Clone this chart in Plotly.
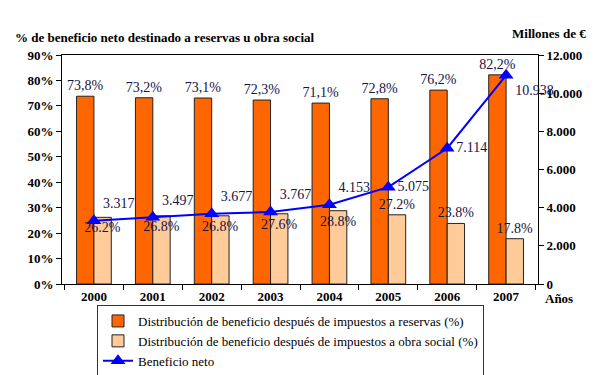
import plotly.graph_objects as go

years = ["2000", "2001", "2002", "2003", "2004", "2005", "2006", "2007"]
reservas = [73.8, 73.2, 73.1, 72.3, 71.1, 72.8, 76.2, 82.2]
obra_social = [26.2, 26.8, 26.8, 27.6, 28.8, 27.2, 23.8, 17.8]
beneficio = [3317, 3497, 3677, 3767, 4153, 5075, 7114, 10938]

name_res = "Distribución de beneficio después de impuestos a reservas (%)"
name_obs = "Distribución de beneficio después de impuestos a obra social (%)"
name_ben = "Beneficio neto"

SERIF = "'Liberation Serif', 'Times New Roman', Times, serif"
LBL = "#141448"

res_text = [f"{v:.1f}".replace(".", ",") + "%" for v in reservas]
obs_text = [f"{v:.1f}%" for v in obra_social]
ben_text = [f"{v:,}".replace(",", ".") for v in beneficio]

obs_pos = ["inside", "inside", "inside", "inside", "inside", "outside", "outside", "outside"]
ben_pos = ["top right", "top right", "top right", "top right", "top right",
           "middle right", "middle right", "bottom right"]

fig = go.Figure()
fig.add_trace(go.Bar(
    x=years, y=reservas, name=name_res,
    marker=dict(color="#FF6600", line=dict(color="#222222", width=1)),
    text=res_text, textposition="outside", constraintext="none",
    textfont=dict(family=SERIF, size=14, color=LBL), cliponaxis=False,
))
fig.add_trace(go.Bar(
    x=years, y=obra_social, name=name_obs,
    marker=dict(color="#FFCC99", line=dict(color="#222222", width=1)),
    text=obs_text, textposition=obs_pos, constraintext="none",
    insidetextanchor="end",
    insidetextfont=dict(family=SERIF, size=14, color=LBL),
    outsidetextfont=dict(family=SERIF, size=14, color=LBL),
    textangle=0, cliponaxis=False,
))
fig.add_trace(go.Scatter(
    x=years, y=beneficio, name=name_ben, yaxis="y2",
    mode="lines+markers+text",
    line=dict(color="#0000FF", width=2),
    marker=dict(symbol="triangle-up", size=13, color="#0000FF"),
    text=ben_text, textposition=ben_pos,
    textfont=dict(family=SERIF, size=14, color=LBL), cliponaxis=False,
))

tickfont = dict(family=SERIF, size=13, color="black", weight="bold")

fig.update_layout(
    width=600, height=375,
    margin=dict(l=62, r=62, t=55, b=91, autoexpand=False),
    paper_bgcolor="white", plot_bgcolor="white",
    separators=",.",
    barmode="group", bargap=0.41, bargroupgap=0.0,
    showlegend=True,
    legend=dict(
        xref="container", yref="container",
        x=97 / 600, xanchor="left",
        y=(375 - 305) / 375, yanchor="top",
        orientation="v", bgcolor="white",
        bordercolor="#333333", borderwidth=1,
        font=dict(family=SERIF, size=13, color="black"),
        traceorder="normal", tracegroupgap=0,
    ),
    xaxis=dict(
        type="category", showline=True, linecolor="black", linewidth=1,
        mirror=True, ticks="outside", ticklen=5, tickson="boundaries",
        tickcolor="black", tickfont=tickfont, showgrid=False, automargin=False,
    ),
    yaxis=dict(
        range=[0, 90], dtick=10, ticksuffix="%", showline=True,
        linecolor="black", linewidth=1, ticks="outside", ticklen=5,
        tickcolor="black", tickfont=tickfont, showgrid=False, zeroline=False,
        automargin=False,
    ),
    yaxis2=dict(
        range=[0, 12000], dtick=2000, tickformat=",d", overlaying="y",
        side="right", showline=True, linecolor="black", linewidth=1,
        ticks="outside", ticklen=5, tickcolor="black", tickfont=tickfont,
        showgrid=False, zeroline=False, automargin=False,
    ),
    annotations=[
        dict(text="% de beneficio neto destinado a reservas u obra social",
             xref="paper", yref="paper", x=(13 - 62) / 476, y=(284 - 37) / 229,
             xanchor="left", yanchor="middle", showarrow=False,
             font=dict(family=SERIF, size=13, color="black", weight="bold")),
        dict(text="Millones de €",
             xref="paper", yref="paper", x=(588 - 62) / 476, y=(284 - 33) / 229,
             xanchor="right", yanchor="middle", showarrow=False,
             font=dict(family=SERIF, size=13, color="black", weight="bold")),
        dict(text="Años",
             xref="paper", yref="paper", x=(543 - 62) / 476, y=(284 - 298) / 229,
             xanchor="left", yanchor="middle", showarrow=False,
             font=dict(family=SERIF, size=13, color="black", weight="bold")),
    ],
)

fig.write_html(
    "out.html",
    config={"displayModeBar": False},
    post_script="document.body.style.margin='0';document.body.style.padding='0';",
)
